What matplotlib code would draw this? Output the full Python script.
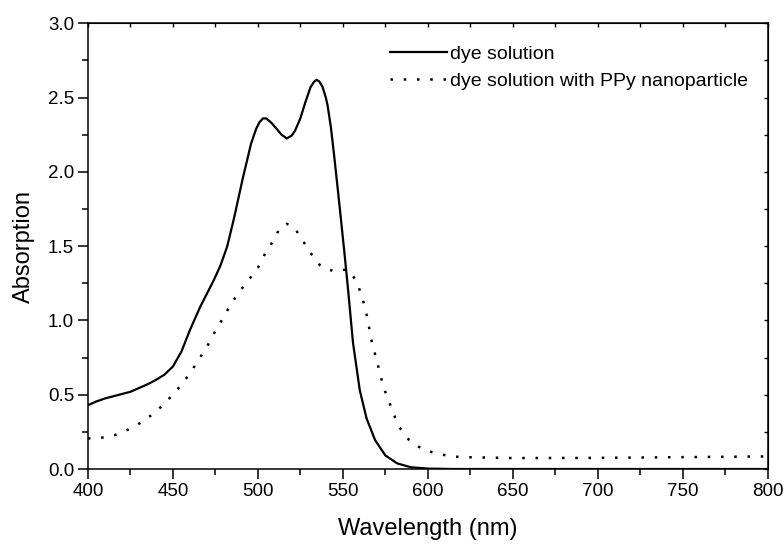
import matplotlib.pyplot as plt
from matplotlib.ticker import MultipleLocator

plt.rcParams['font.family'] = ['Liberation Sans', 'DejaVu Sans']

# dye solution (solid)
wl_dye = [400, 405, 410, 415, 420, 425, 430, 435, 440, 445, 450, 455, 460,
          466, 470, 474, 478, 482, 486, 491, 496, 499, 501, 503, 505, 508,
          511, 514, 517, 520, 522, 525, 528, 531, 533, 534.5, 536, 538, 540,
          541, 543, 545, 548, 551, 553, 556, 560, 564, 569, 575, 582, 590,
          600, 615, 650, 700, 750, 800]
abs_dye = [0.43, 0.455, 0.475, 0.49, 0.505, 0.52, 0.545, 0.57, 0.60, 0.635,
           0.69, 0.79, 0.935, 1.09, 1.18, 1.27, 1.37, 1.50, 1.69, 1.95, 2.19,
           2.29, 2.335, 2.36, 2.36, 2.33, 2.29, 2.25, 2.225, 2.245, 2.28,
           2.36, 2.47, 2.57, 2.605, 2.62, 2.61, 2.575, 2.50, 2.45, 2.30,
           2.10, 1.78, 1.45, 1.22, 0.85, 0.53, 0.34, 0.195, 0.092, 0.038,
           0.012, 0.003, 0.0, 0.0, 0.0, 0.0, 0.0]

# dye solution with PPy nanoparticle (dotted)
wl_ppy = [400, 406, 416, 424, 432, 440, 447, 454, 460, 465, 470, 474, 479,
          483, 488, 494, 500, 504, 509, 513, 517, 521, 526, 531, 537, 544,
          548, 552, 555, 558, 561, 563, 565, 566, 568, 570, 572, 574, 577,
          580, 583, 589, 597, 605, 613, 620, 650, 700, 750, 800]
abs_ppy = [0.206, 0.206, 0.229, 0.267, 0.318, 0.385, 0.464, 0.553, 0.643,
           0.733, 0.822, 0.908, 1.007, 1.087, 1.177, 1.264, 1.354, 1.444,
           1.535, 1.623, 1.65, 1.634, 1.545, 1.455, 1.365, 1.334, 1.335,
           1.343, 1.32, 1.26, 1.175, 1.085, 0.995, 0.906, 0.816, 0.728, 0.639,
           0.549, 0.46, 0.37, 0.285, 0.195, 0.132, 0.105, 0.087, 0.08, 0.074,
           0.075, 0.08, 0.085]

fig = plt.figure(figsize=(7.84, 5.45), dpi=100)
ax = fig.add_axes([0.1122, 0.1394, 0.979 - 0.1122, 0.9572 - 0.1394])

ax.plot(wl_dye, abs_dye, color='black', lw=1.6, label='dye solution')
ax.plot(wl_ppy, abs_ppy, color='black', lw=1.8, linestyle=(0, (1, 4.3)),
        label='dye solution with PPy nanoparticle')

ax.set_xlim(400, 800)
ax.set_ylim(0, 3.0)
ax.xaxis.set_major_locator(MultipleLocator(50))
ax.xaxis.set_minor_locator(MultipleLocator(25))
ax.yaxis.set_major_locator(MultipleLocator(0.5))
ax.yaxis.set_minor_locator(MultipleLocator(0.25))

for s in ax.spines.values():
    s.set_linewidth(1.1)

ax.tick_params(which='major', direction='out', length=7, width=1.1,
               labelsize=13.5, pad=3)
ax.tick_params(which='minor', direction='out', length=4, width=1.1)

# inward ticks on top and right
top = ax.secondary_xaxis('top')
top.xaxis.set_major_locator(MultipleLocator(50))
top.xaxis.set_minor_locator(MultipleLocator(25))
top.tick_params(which='both', direction='in', length=3, width=1.0,
                labeltop=False)
right = ax.secondary_yaxis('right')
right.yaxis.set_major_locator(MultipleLocator(0.5))
right.yaxis.set_minor_locator(MultipleLocator(0.25))
right.tick_params(which='both', direction='in', length=3, width=1.0,
                  labelright=False)

ax.set_xlabel('Wavelength (nm)', fontsize=17, labelpad=13)
ax.set_ylabel('Absorption', fontsize=17, labelpad=9)

ax.legend(loc='upper left', bbox_to_anchor=(0.444, 0.951), frameon=False,
          fontsize=14, handlelength=2.95, handletextpad=0.15,
          labelspacing=0.5, borderpad=0, borderaxespad=0)

fig.savefig('out.png', dpi=100)
